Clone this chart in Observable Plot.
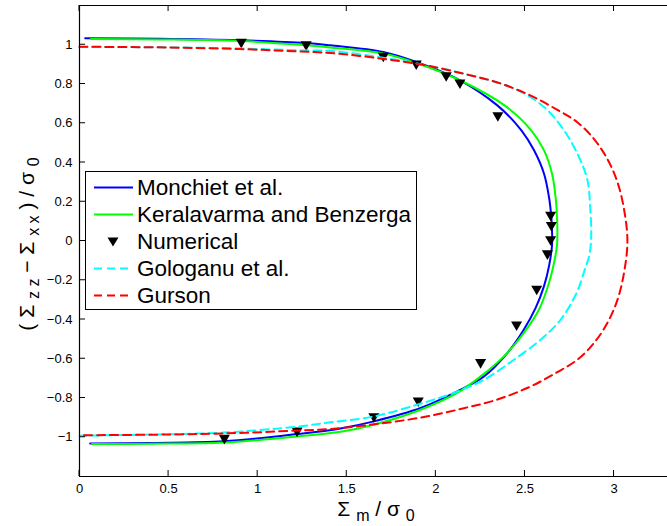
<!DOCTYPE html>
<html>
<head>
<meta charset="utf-8">
<script src="https://cdn.jsdelivr.net/npm/d3@7"></script>
<script src="https://cdn.jsdelivr.net/npm/@observablehq/plot@0.6"></script>
<style>
  html, body { margin: 0; padding: 0; background: #fff; }
  #wrap { position: relative; width: 667px; height: 526px; overflow: hidden; font-family: "Liberation Sans", Arial, sans-serif; }
  #legend { position: absolute; left: 85px; top: 171px; width: 330px; height: 137px; border: 1px solid #000; background: #fff; }
  .row { position: absolute; left: 0; height: 27px; width: 100%; }
  .row svg { position: absolute; left: 7px; top: 0; }
  .row span { position: absolute; left: 51px; top: 0; line-height: 27px; font-size: 22.5px; color: #000; white-space: nowrap; }
</style>
</head>
<body>
<div id="wrap"></div>
<script>
// ---- data ----
const xTicks = [0, 0.5, 1, 1.5, 2, 2.5, 3];
const yTicks = [-1, -0.8, -0.6, -0.4, -0.2, 0, 0.2, 0.4, 0.6, 0.8, 1];

const monchietX = [0.032, 0.45, 0.908, 1.272, 1.408, 1.705, 1.89, 2.135, 2.345, 2.48, 2.551, 2.607, 2.635, 2.648, 2.652, 2.652, 2.635, 2.607, 2.560, 2.494, 2.401, 2.270, 2.12, 1.914, 1.652, 1.465, 1.221, 0.809, 0.4, 0.06];
const monchietY = [1.033, 1.031, 1.023, 1.009, 0.997, 0.963, 0.912, 0.819, 0.691, 0.564, 0.462, 0.343, 0.223, 0.121, 0.05, -0.02, -0.128, -0.230, -0.341, -0.451, -0.571, -0.690, -0.766, -0.851, -0.919, -0.955, -0.984, -1.021, -1.029, -1.032];

const keralaX = [0.064, 0.45, 0.908, 1.272, 1.408, 1.705, 1.89, 2.135, 2.385, 2.535, 2.607, 2.652, 2.672, 2.680, 2.682, 2.680, 2.667, 2.635, 2.579, 2.494, 2.382, 2.251, 2.12, 1.914, 1.652, 1.465, 1.221, 0.809, 0.4, 0.07];
const keralaY = [1.029, 1.027, 1.019, 0.997, 0.986, 0.955, 0.907, 0.819, 0.691, 0.564, 0.462, 0.343, 0.223, 0.121, 0.05, -0.02, -0.094, -0.213, -0.349, -0.468, -0.588, -0.690, -0.774, -0.860, -0.936, -0.972, -0.996, -1.027, -1.033, -1.035];

const numericalX = [0.908, 1.272, 1.705, 1.89, 2.058, 2.135, 2.348, 2.644, 2.648, 2.644, 2.626, 2.566, 2.453, 2.251, 1.901, 1.652, 1.221, 0.813];
const numericalY = [1.014, 1.001, 0.943, 0.904, 0.844, 0.807, 0.640, 0.133, 0.081, 0.008, -0.064, -0.244, -0.426, -0.618, -0.814, -0.894, -0.967, -1.004];

const gologanuX = [0, 0.45, 0.903, 1.24, 1.408, 1.652, 1.895, 2.157, 2.438, 2.607, 2.719, 2.803, 2.851, 2.866, 2.872, 2.862, 2.838, 2.79, 2.701, 2.588, 2.438, 2.270, 2.101, 1.895, 1.652, 1.408, 1.221, 0.809, 0.4, 0];
const gologanuY = [0.989, 0.987, 0.981, 0.971, 0.968, 0.941, 0.904, 0.853, 0.777, 0.683, 0.564, 0.428, 0.309, 0.172, 0.03, -0.07, -0.14, -0.264, -0.40, -0.503, -0.605, -0.707, -0.774, -0.834, -0.894, -0.924, -0.946, -0.976, -0.986, -0.992];

const gursonX = [0, 0.5, 0.9, 1.22, 1.408, 1.689, 1.933, 2.157, 2.345, 2.532, 2.682, 2.794, 2.888, 2.963, 3.019, 3.056, 3.075, 3.056, 3.019, 2.963, 2.888, 2.794, 2.682, 2.532, 2.345, 2.157, 1.933, 1.689, 1.408, 1.22, 0.9, 0.5, 0];
const gursonY = [0.99, 0.986, 0.978, 0.966, 0.958, 0.93, 0.897, 0.852, 0.808, 0.741, 0.668, 0.605, 0.519, 0.417, 0.30, 0.162, 0, -0.162, -0.30, -0.417, -0.519, -0.605, -0.668, -0.741, -0.808, -0.852, -0.897, -0.93, -0.958, -0.966, -0.978, -0.986, -0.99];

const legendLabels = ["Monchiet et al.", "Keralavarma and Benzerga", "Numerical", "Gologanu et al.", "Gurson"];
const colors = {monchiet: "#0000ff", kerala: "#00ff00", numerical: "#000000", gologanu: "#00ffff", gurson: "#ff0000"};

const zip = (xs, ys) => xs.map((x, i) => ({x, y: ys[i]}));
const monchiet = zip(monchietX, monchietY);
const kerala = zip(keralaX, keralaY);
const numerical = zip(numericalX, numericalY);
const gologanu = zip(gologanuX, gologanuY);
const gurson = zip(gursonX, gursonY);

const dash = "8,5";
const fmt = d3.format("~g");

const plot = Plot.plot({
  width: 667,
  height: 526,
  marginLeft: 79,
  marginRight: 0,
  marginTop: 5,
  marginBottom: 50,
  x: {domain: [0, 3.3]},
  y: {domain: [-1.2, 1.2]},
  style: {fontFamily: "'Liberation Sans', Arial, sans-serif", fontSize: "13px", background: "#fff", color: "#000"},
  marks: [
    Plot.axisX(xTicks, {tickSize: 0, tickPadding: 7, label: null, fontSize: 13, tickFormat: fmt}),
    Plot.axisY(yTicks, {tickSize: 0, tickPadding: 7, label: null, fontSize: 13, tickFormat: fmt}),
    Plot.line(monchiet, {x: "x", y: "y", stroke: colors.monchiet, strokeWidth: 2, curve: "catmull-rom"}),
    Plot.line(kerala, {x: "x", y: "y", stroke: colors.kerala, strokeWidth: 2, curve: "catmull-rom"}),
    Plot.dot(numerical, {x: "x", y: "y", symbol: "triangle", rotate: 180, r: 4.1, fill: colors.numerical, stroke: "none"}),
    Plot.line(gologanu, {x: "x", y: "y", stroke: colors.gologanu, strokeWidth: 2, strokeDasharray: dash, curve: "catmull-rom"}),
    Plot.line(gurson, {x: "x", y: "y", stroke: colors.gurson, strokeWidth: 2, strokeDasharray: dash, curve: "catmull-rom"}),
    Plot.ruleX([0], {stroke: "#000", strokeWidth: 1.2}),
    Plot.ruleY([-1.2, 1.2], {stroke: "#000", strokeWidth: 1.2})
  ]
});

// inward tick marks, via the plot's own scales
const sx = plot.scale("x"), sy = plot.scale("y");
const svg = d3.select(plot);
const g = svg.append("g").attr("stroke", "#000").attr("stroke-width", 1);
const yTop = sy.apply(1.2), yBot = sy.apply(-1.2), x0 = sx.apply(0);
xTicks.forEach(v => {
  const px = sx.apply(v);
  g.append("line").attr("x1", px).attr("x2", px).attr("y1", yBot).attr("y2", yBot - 6);
  g.append("line").attr("x1", px).attr("x2", px).attr("y1", yTop).attr("y2", yTop + 6);
});
yTicks.forEach(v => {
  const py = sy.apply(v);
  g.append("line").attr("x1", x0).attr("x2", x0 + 6).attr("y1", py).attr("y2", py);
});

// axis labels with subscripts
const fam = "'Liberation Sans', Arial, sans-serif";
const xl = svg.append("text").attr("x", 376).attr("y", 516).attr("text-anchor", "middle")
  .attr("font-family", fam).attr("font-size", 21).attr("fill", "#000");
xl.append("tspan").text("Σ ");
xl.append("tspan").attr("font-size", 16).attr("dy", 5).text("m");
xl.append("tspan").attr("dy", -5).text(" / σ ");
xl.append("tspan").attr("font-size", 16).attr("dy", 5).text("0");

const yl = svg.append("text").attr("transform", "translate(34,244) rotate(-90)").attr("text-anchor", "middle")
  .attr("font-family", fam).attr("font-size", 21).attr("fill", "#000");
yl.append("tspan").text("( Σ ");
yl.append("tspan").attr("font-size", 16).attr("dy", 5).text("z z");
yl.append("tspan").attr("dy", -5).text(" − Σ ");
yl.append("tspan").attr("font-size", 16).attr("dy", 5).text("x x");
yl.append("tspan").attr("dy", -5).text(" ) / σ ");
yl.append("tspan").attr("font-size", 16).attr("dy", 5).text("0");

const wrap = document.getElementById("wrap");
wrap.appendChild(plot);

// legend
const legend = document.createElement("div");
legend.id = "legend";
const samples = [
  {stroke: colors.monchiet, dash: null},
  {stroke: colors.kerala, dash: null},
  {marker: true},
  {stroke: colors.gologanu, dash: dash},
  {stroke: colors.gurson, dash: dash}
];
legendLabels.forEach((lab, i) => {
  const row = document.createElement("div");
  row.className = "row";
  row.style.top = (2 + i * 27) + "px";
  const s = samples[i];
  let inner;
  if (s.marker) {
    inner = `<polygon points="14.5,9.5 25.5,9.5 20,18.5" fill="#000"/>`;
  } else {
    inner = `<line x1="1" x2="40" y1="13.5" y2="13.5" stroke="${s.stroke}" stroke-width="2"${s.dash ? ` stroke-dasharray="${s.dash}"` : ""}/>`;
  }
  row.innerHTML = `<svg width="42" height="27">${inner}</svg><span>${lab}</span>`;
  legend.appendChild(row);
});
wrap.appendChild(legend);
</script>
</body>
</html>
